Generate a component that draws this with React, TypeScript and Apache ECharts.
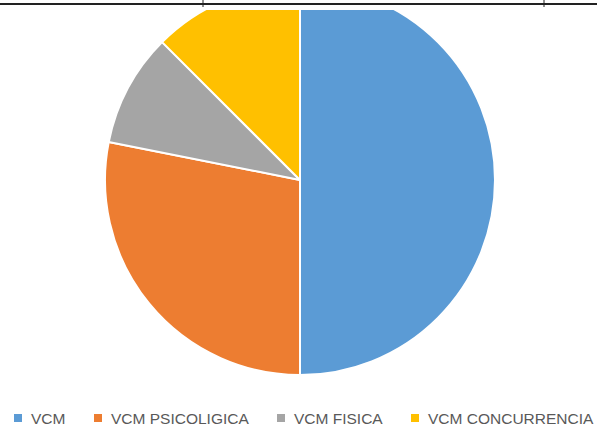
import React, { useEffect, useRef } from "react";
import * as echarts from "echarts";

const categories = ["VCM", "VCM PSICOLIGICA", "VCM FISICA", "VCM CONCURRENCIA"];
const values = [16, 9, 3, 4];
const colors = ["#5B9BD5", "#ED7D31", "#A5A5A5", "#FFC000"];
const legendLefts = [12, 92, 275, 409];

export default function App() {
  const ref = useRef<HTMLDivElement>(null);
  useEffect(() => {
    const chart = echarts.init(ref.current!, undefined, { renderer: "svg" });
    chart.setOption({
      animation: false,
      backgroundColor: "#ffffff",
      color: colors,
      legend: categories.map((c, i) => ({
        data: [c],
        left: legendLefts[i],
        top: 410,
        padding: 0,
        icon: "rect",
        itemWidth: 10,
        itemHeight: 10,
        itemGap: 0,
        textStyle: { color: "#595959", fontSize: 15.5, fontFamily: "Liberation Sans", padding: [0, 0, 0, 3] },
        selectedMode: false,
      })),
      series: [
        {
          type: "pie",
          center: [300, 180],
          radius: 195,
          startAngle: 90,
          clockwise: true,
          label: { show: false },
          labelLine: { show: false },
          itemStyle: { borderColor: "#ffffff", borderWidth: 2 },
          data: categories.map((c, i) => ({ name: c, value: values[i] })),
        },
      ],
      graphic: [
        { type: "rect", shape: { x: 0, y: 0, width: 597, height: 10 }, style: { fill: "#ffffff" }, z: 100 },
        { type: "line", shape: { x1: 0, y1: 4, x2: 597, y2: 4 }, style: { stroke: "#222", lineWidth: 2 }, z: 101 },
        { type: "line", shape: { x1: 203, y1: 0, x2: 203, y2: 7 }, style: { stroke: "#222", lineWidth: 1 }, z: 101 },
        { type: "line", shape: { x1: 544, y1: 0, x2: 544, y2: 7 }, style: { stroke: "#222", lineWidth: 1 }, z: 101 },
      ],
    });
    return () => chart.dispose();
  }, []);
  return <div ref={ref} style={{ width: 597, height: 429, position: "fixed", left: 0, top: 0 }} />;
}
